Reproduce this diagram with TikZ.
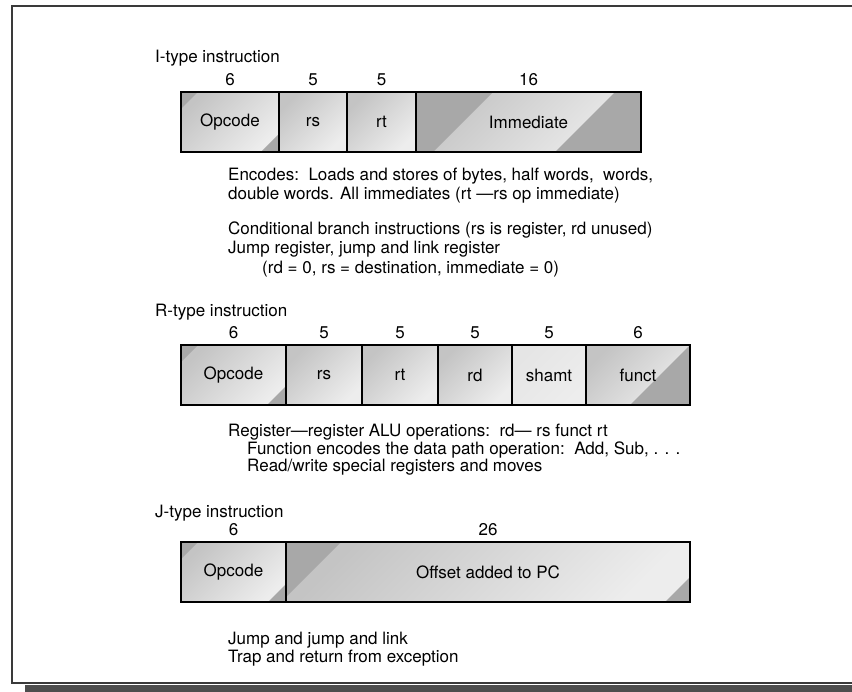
\documentclass[tikz,border=0pt]{standalone}
\usepackage{fontspec}
\setmainfont{TeX Gyre Heros}
\usetikzlibrary{positioning}

\definecolor{fielddark}{HTML}{A8A8A8}
\definecolor{fieldmid}{HTML}{C4C4C4}
\definecolor{fieldlight}{HTML}{EDEDED}
\definecolor{framegray}{HTML}{3A3A3A}
\definecolor{shadowgray}{HTML}{4D4D4D}

\begin{document}
\begin{tikzpicture}[x=1pt, y=-1pt,
  every node/.style={font=\fontsize{17}{20}\selectfont},
  txt/.style={anchor=west, inner sep=0pt},
  bits/.style={inner sep=0pt},
  field/.style 2 args={draw=black, line width=1.1pt, anchor=north west,
    minimum height=60pt, inner sep=0pt, outer sep=0pt,
    top color=fieldmid, bottom color=fieldlight, shading angle=45,
    path picture={
      \fill[fielddark] (path picture bounding box.north west) -- ++(#1,0) -- ++(-#1,#1) -- cycle;
      \fill[fielddark] (path picture bounding box.south east) -- ++(-#2,0) -- ++(#2,-#2) -- cycle;
    }}]
\useasboundingbox (0,0) rectangle (852,692);

% frame and shadow
\fill[shadowgray] (25,684.5) rectangle (852,692);
\draw[framegray, line width=1.5pt] (860,6) -- (12,6) -- (12,683) -- (860,683);

% I-type
\node[txt] (ititle) at (155,58) {I-type instruction};
\node[field={17}{18}, minimum width=98pt] (iop) at (181,92) {Opcode};
\node[field={0}{0}, minimum width=68pt, right=0pt of iop] (irs) {rs};
\node[field={0}{0}, minimum width=69pt, right=0pt of irs] (irt) {rt};
\node[field={77}{86}, minimum width=225pt, right=0pt of irt] (iimm) {Immediate};
\node[bits, above=6pt of iop] (ibop) {6};
\node[bits, above=6pt of irs] (ibrs) {5};
\node[bits, above=6pt of irt] (ibrt) {5};
\node[bits, above=6pt of iimm] (ibimm) {16};

\node[txt] (ienc) at (228,176) {Encodes:\ \ Loads and stores of bytes, half words,\ \ words,};
\node[txt] (ienc2) at (228,195) {double words. All immediates (rt —rs op immediate)};
\node[txt] (ibr) at (228,230) {Conditional branch instructions (rs is register, rd unused)};
\node[txt] (ijr) at (228,249) {Jump register, jump and link register};
\node[txt] (ijr2) at (262,269) {(rd = 0, rs = destination, immediate = 0)};

% R-type
\node[txt] (rtitle) at (155,312) {R-type instruction};
\node[field={17}{19}, minimum width=105pt] (rop) at (181,345) {Opcode};
\node[field={0}{0}, minimum width=76pt, right=0pt of rop] (rrs) {rs};
\node[field={0}{0}, minimum width=76pt, right=0pt of rrs] (rrt) {rt};
\node[field={0}{0}, minimum width=74pt, right=0pt of rrt] (rrd) {rd};
\node[field={0}{0}, minimum width=74pt, right=0pt of rrd, line width=1.6pt,
  top color=fieldlight!80!fieldmid, bottom color=fieldlight, shading angle=45] (rsh) {shamt};
\node[field={0}{60}, minimum width=104pt, right=0pt of rsh] (rfn) {funct};
\node[bits, above=6pt of rop] (rbop) {6};
\node[bits, above=6pt of rrs] (rbrs) {5};
\node[bits, above=6pt of rrt] (rbrt) {5};
\node[bits, above=6pt of rrd] (rbrd) {5};
\node[bits, above=6pt of rsh] (rbsh) {5};
\node[bits, above=6pt of rfn] (rbfn) {6};

\node[txt] (ralu) at (228,432) {Register—register ALU operations:\ \ rd— rs funct rt};
\node[txt] (rfun) at (247,450) {Function encodes the data path operation:\ \ Add, Sub, . . .};
\node[txt] (rmov) at (247,467) {Read/write special registers and moves};

% J-type
\node[txt] (jtitle) at (155,513) {J-type instruction};
\node[field={17}{18}, minimum width=105pt] (jop) at (181,542) {Opcode};
\node[field={55}{25}, minimum width=404pt, right=0pt of jop] (joff) {Offset added to PC};
\node[bits, above=6pt of jop] (jbop) {6};
\node[bits, above=6pt of joff] (jboff) {26};

\node[txt] (jjal) at (228,640) {Jump and jump and link};
\node[txt] (jtrap) at (228,658) {Trap and return from exception};
\end{tikzpicture}
\end{document}
